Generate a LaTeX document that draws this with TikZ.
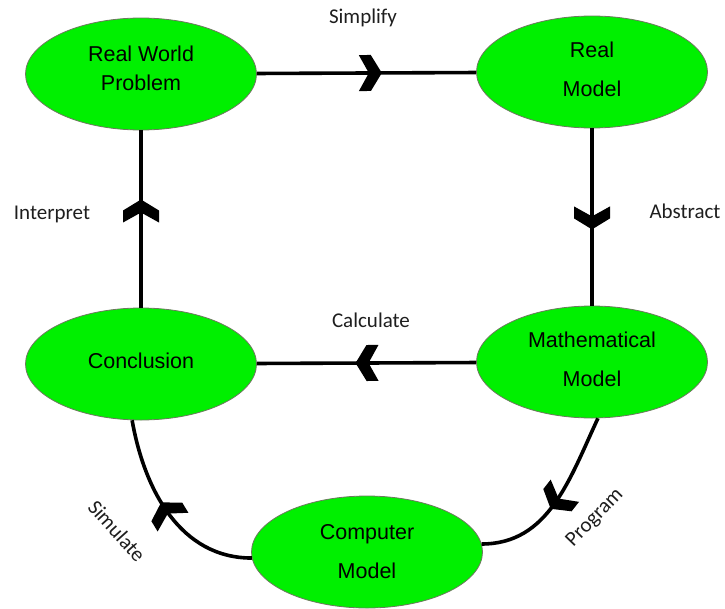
\documentclass[tikz,border=0pt]{standalone}
\usepackage{fontspec}
\setmainfont{Liberation Sans}
\newfontfamily\labelfont{Carlito}
\usetikzlibrary{shapes.geometric,decorations.markings}

\definecolor{blobgreen}{RGB}{0,240,0}
\definecolor{blobrim}{RGB}{110,120,95}
\definecolor{labelgray}{RGB}{30,30,30}

\begin{document}
\begin{tikzpicture}[x=1pt,y=-1pt,
    stage/.style={ellipse,draw=blobrim,fill=blobgreen,line width=.8pt,
        minimum width=231pt,minimum height=112pt,inner sep=0pt,align=center,
        font=\fontsize{21.5}{39}\selectfont},
    link/.style={line width=3.6pt},
    midtip/.style={postaction={decorate},decoration={markings,
        mark=at position #1 with {\fill (0,0) -- (-11,18) -- (-23,18) -- (-13,0) -- (-23,-18) -- (-11,-18) -- cycle;}}},
    lbl/.style={text=labelgray,font=\labelfont\fontsize{21}{25}\selectfont}]
            \useasboundingbox (0,0) rectangle (725,608);
            \node[stage,font=\fontsize{21.5}{29}\selectfont,text depth=12pt] (RW) at (141,74) {Real World\\Problem};
            \node[stage,text depth=6pt] (RM) at (592,72) {Real\\Model};
            \node[stage,text depth=6pt] (MM) at (592,362) {Mathematical\\Model};
            \node[stage,text depth=6pt] (CO) at (141,364) {Conclusion};
            \node[stage] (CM) at (367,552) {Computer\\Model};
            \draw[link,midtip=.57] (RW) -- (RM);
            \draw[link,midtip=.57] (RM) -- (MM);
            \draw[link,midtip=.55] (MM) -- (CO);
            \draw[link,midtip=.61] (CO) -- (RW);
            \draw[link,midtip=.56] (MM.-84) to[out=-115,in=0] (CM.4);
            \draw[link,midtip=.56] (CM.183) to[out=180,in=-80] (CO.-99);
            \node[lbl] (simp) at (363,18) {Simplify};
            \node[lbl] (abst) at (685,211) {Abstract};
            \node[lbl] (calc) at (371,320) {Calculate};
            \node[lbl] (intp) at (52,214) {Interpret};
            \node[lbl,rotate=46] (prog) at (595,518) {Program};
            \node[lbl,rotate=-48] (simu) at (117,531) {Simulate};
        \end{tikzpicture}
\end{document}
